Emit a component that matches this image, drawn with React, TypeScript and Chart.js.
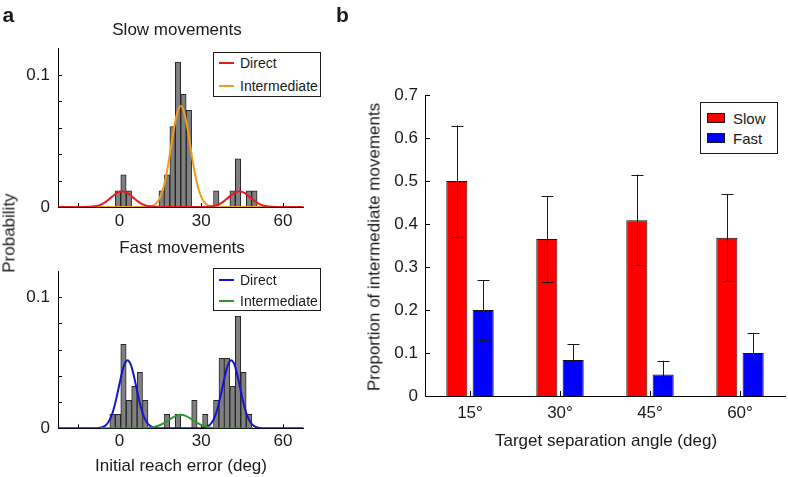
import React, { useEffect, useRef } from 'react';
import { Chart, registerables } from 'chart.js';

Chart.register(...registerables);

const FONT = '"Liberation Sans", Arial, Helvetica, sans-serif';
const INK = '#1a1a1a';

// ---------- Panel a: histogram bins (deg) and probabilities ----------
const slowBins = [-0.5, 1.5, 3.5, 15.5, 17.5, 19.5, 21.5, 23.5, 25.5, 35.5, 41.5, 43.5, 47.5, 49.5];
const slowProb = [0.0122, 0.0244, 0.0122, 0.0122, 0.0244, 0.061, 0.1098, 0.0854, 0.0732, 0.0122, 0.0122, 0.0366, 0.0122, 0.0122];

const fastBins = [-2.5, -0.5, 1.5, 3.5, 5.5, 7.5, 9.5, 17.5, 21.5, 27.5, 31.5, 35.5, 37.5, 39.5, 41.5, 43.5, 45.5, 47.5];
const fastProb = [0.0107, 0.0107, 0.0641, 0.0214, 0.0321, 0.0427, 0.0214, 0.0107, 0.0107, 0.0214, 0.0107, 0.0214, 0.0534, 0.0534, 0.0321, 0.0855, 0.0427, 0.0107];

// fitted curves
const slowDirectX = [-22.5, -13, -11, -9, -7, -5, -3, -1, 1, 3, 5, 7, 9, 11, 13, 15, 30, 32, 34, 36, 38, 40, 42, 44, 46, 48, 50, 52, 54, 56, 58, 67.5];
const slowDirectY = [0, 0, 0.0001, 0.0005, 0.0016, 0.0039, 0.0073, 0.0106, 0.012, 0.0106, 0.0073, 0.0039, 0.0016, 0.0005, 0.0001, 0, 0, 0.0001, 0.0005, 0.0016, 0.0039, 0.0073, 0.0106, 0.012, 0.0106, 0.0073, 0.0039, 0.0016, 0.0005, 0.0001, 0, 0];

const slowInterX = [-22.5, 8.5, 9.5, 10.5, 11.5, 12.5, 13.5, 14.5, 15.5, 16.5, 17.5, 18.5, 19.5, 20.5, 21.5, 22.5, 23.5, 24.5, 25.5, 26.5, 27.5, 28.5, 29.5, 30.5, 31.5, 32.5, 33.5, 34.5, 35.5, 36.5, 67.5];
const slowInterY = [0, 0, 0.0001, 0.0002, 0.0005, 0.0013, 0.0028, 0.0056, 0.0104, 0.0176, 0.0276, 0.0398, 0.053, 0.065, 0.0734, 0.0765, 0.0734, 0.065, 0.053, 0.0398, 0.0276, 0.0176, 0.0104, 0.0056, 0.0028, 0.0013, 0.0005, 0.0002, 0.0001, 0, 0];

const fastDirectX = [-22.5, -9, -8, -7, -6, -5, -4, -3, -2, -1, 0, 1, 2, 3, 4, 5, 6, 7, 8, 9, 10, 11, 12, 13, 14, 15, 29, 30, 31, 32, 33, 34, 35, 36, 37, 38, 39, 40, 41, 42, 43, 44, 45, 46, 47, 48, 49, 50, 51, 52, 53, 67.5];
const fastDirectY = [0, 0, 0.0001, 0.0004, 0.001, 0.0023, 0.0048, 0.0089, 0.0153, 0.0238, 0.0335, 0.0428, 0.0495, 0.052, 0.0495, 0.0428, 0.0335, 0.0238, 0.0153, 0.0089, 0.0048, 0.0023, 0.001, 0.0004, 0.0001, 0, 0, 0.0001, 0.0004, 0.001, 0.0023, 0.0048, 0.0089, 0.0153, 0.0238, 0.0335, 0.0428, 0.0495, 0.052, 0.0495, 0.0428, 0.0335, 0.0238, 0.0153, 0.0089, 0.0048, 0.0023, 0.001, 0.0004, 0.0001, 0, 0];

const fastInterX = [-7, 6.5, 8.5, 10.5, 12.5, 14.5, 16.5, 18.5, 20.5, 22.5, 24.5, 26.5, 28.5, 30.5, 32.5, 34.5, 36.5, 38.5, 49];
const fastInterY = [0, 0, 0.0001, 0.0003, 0.0009, 0.0021, 0.0042, 0.0069, 0.0093, 0.0103, 0.0093, 0.0069, 0.0042, 0.0021, 0.0009, 0.0003, 0.0001, 0, 0];

const histXTicks = [-15, 0, 30, 60];
const histXTickLabels = ['', '0', '30', '60'];
const histYTicks = [0, 0.02, 0.04, 0.06, 0.08, 0.1];
const histYTickLabels = ['0', '', '', '', '', '0.1'];

// ---------- Panel b ----------
const angleLabels = ['15°', '30°', '45°', '60°'];
const slowProp = [0.5, 0.365, 0.409, 0.368];
const slowLo = [0.37, 0.266, 0.304, 0.267];
const slowHi = [0.629, 0.464, 0.515, 0.47];
const fastProp = [0.2, 0.084, 0.05, 0.1];
const fastLo = [0.13, 0.049, 0.017, 0.05];
const fastHi = [0.269, 0.121, 0.082, 0.147];
const propTicks = [0, 0.1, 0.2, 0.3, 0.4, 0.5, 0.6, 0.7];
const propTickLabels = ['0', '0.1', '0.2', '0.3', '0.4', '0.5', '0.6', '0.7'];

const RED = '#e51d1d';
const ORANGE = '#f29a1c';
const BLUE = '#1414d2';
const GREEN = '#2b9a2b';

const inwardTicks = {
  id: 'inwardTicks',
  beforeDatasetsDraw(chart: any, _args: any, opts: any) {
    const { ctx, chartArea, scales } = chart;
    const len = opts.length ?? 4;
    ctx.save();
    ctx.strokeStyle = '#000';
    ctx.lineWidth = 1;
    ctx.beginPath();
    const x = scales.x;
    x.ticks.forEach((_t: any, i: number) => {
      const px = Math.round(x.getPixelForTick(i)) + 0.5;
      ctx.moveTo(px, chartArea.bottom);
      ctx.lineTo(px, chartArea.bottom - len);
    });
    const y = scales.y;
    y.ticks.forEach((_t: any, i: number) => {
      const py = Math.round(y.getPixelForTick(i)) + 0.5;
      ctx.moveTo(chartArea.left, py);
      ctx.lineTo(chartArea.left + len, py);
    });
    ctx.stroke();
    ctx.restore();
  },
};

const errorBars = {
  id: 'errorBars',
  afterDatasetsDraw(chart: any) {
    const { ctx } = chart;
    const y = chart.scales.y;
    ctx.save();
    ctx.strokeStyle = '#1a1a1a';
    ctx.lineWidth = 1;
    chart.data.datasets.forEach((ds: any, di: number) => {
      const meta = chart.getDatasetMeta(di);
      meta.data.forEach((bar: any, i: number) => {
        const x = Math.round(bar.x) + 0.5;
        const y1 = y.getPixelForValue(ds.errLow[i]);
        const y2 = y.getPixelForValue(ds.errHigh[i]);
        ctx.beginPath();
        ctx.moveTo(x, y1);
        ctx.lineTo(x, y2);
        ctx.moveTo(x - 6, Math.round(y1) + 0.5);
        ctx.lineTo(x + 6, Math.round(y1) + 0.5);
        ctx.moveTo(x - 6, Math.round(y2) + 0.5);
        ctx.lineTo(x + 6, Math.round(y2) + 0.5);
        ctx.stroke();
      });
    });
    ctx.restore();
  },
};

type Curve = { x: number[]; y: number[]; color: string; order: number };

function makeHist(
  canvas: HTMLCanvasElement,
  bins: number[],
  probs: number[],
  curves: Curve[],
  area: { top: number; right: number; xh: number; xPad: number }
) {
  return new Chart(canvas, {
    type: 'bar',
    data: {
      datasets: [
        ...curves.map((c) => ({
          type: 'line',
          data: c.x.map((x, i) => ({ x, y: c.y[i] })),
          borderColor: c.color,
          borderWidth: 2,
          pointRadius: 0,
          cubicInterpolationMode: 'monotone',
          fill: false,
          order: c.order,
        })),
        {
          type: 'bar',
          data: bins.map((b, i) => ({ x: b, y: probs[i] })),
          backgroundColor: '#808080',
          borderColor: '#262626',
          borderWidth: 1,
          barPercentage: 1,
          categoryPercentage: 1,
          inflateAmount: 0.3,
          order: 10,
        },
      ] as any,
    },
    options: {
      animation: false,
      responsive: false,
      events: [],
      layout: { autoPadding: false, padding: { top: area.top, right: area.right, left: 0, bottom: 0 } },
      plugins: { legend: { display: false }, tooltip: { enabled: false }, inwardTicks: { length: 4 } } as any,
      scales: {
        x: {
          type: 'linear',
          min: -22.5,
          max: 67.5,
          offset: false,
          grid: { display: false, drawTicks: false },
          border: { display: true, color: '#000', width: 1 },
          afterBuildTicks: (s: any) => {
            s.ticks = histXTicks.map((v) => ({ value: v }));
          },
          afterFit: (s: any) => {
            s.height = area.xh;
          },
          ticks: {
            autoSkip: false,
            maxRotation: 0,
            padding: area.xPad,
            color: INK,
            font: { family: FONT, size: 17 },
            callback: (v: any) => histXTickLabels[histXTicks.indexOf(v)] ?? '',
          },
        },
        y: {
          type: 'linear',
          min: 0,
          max: 0.12,
          grid: { display: false, drawTicks: false },
          border: { display: true, color: '#000', width: 1 },
          afterBuildTicks: (s: any) => {
            s.ticks = histYTicks.map((v) => ({ value: v }));
          },
          afterFit: (s: any) => {
            s.width = 58;
          },
          ticks: {
            autoSkip: false,
            padding: 8,
            color: INK,
            font: { family: FONT, size: 17 },
            callback: (v: any) => histYTickLabels[histYTicks.indexOf(v)] ?? '',
          },
        },
      },
    } as any,
    plugins: [inwardTicks],
  });
}

function makeBars(canvas: HTMLCanvasElement) {
  return new Chart(canvas, {
    type: 'bar',
    data: {
      labels: angleLabels,
      datasets: [
        {
          label: 'Slow',
          data: slowProp,
          errLow: slowLo,
          errHigh: slowHi,
          backgroundColor: '#ff0000',
          borderColor: '#111',
          borderWidth: 1,
          categoryPercentage: 0.585,
          barPercentage: 0.8,
        },
        {
          label: 'Fast',
          data: fastProp,
          errLow: fastLo,
          errHigh: fastHi,
          backgroundColor: '#0000ff',
          borderColor: '#111',
          borderWidth: 1,
          categoryPercentage: 0.585,
          barPercentage: 0.8,
        },
      ] as any,
    },
    options: {
      animation: false,
      responsive: false,
      events: [],
      layout: { autoPadding: false, padding: { top: 35, right: 3, left: 0, bottom: 0 } },
      plugins: { legend: { display: false }, tooltip: { enabled: false }, inwardTicks: { length: 5 } } as any,
      scales: {
        x: {
          grid: { display: false, drawTicks: false },
          border: { display: true, color: '#000', width: 1 },
          afterFit: (s: any) => {
            s.height = 81;
          },
          ticks: { padding: 7, color: INK, font: { family: FONT, size: 17 }, maxRotation: 0 },
        },
        y: {
          min: 0,
          max: 0.7,
          grid: { display: false, drawTicks: false },
          border: { display: true, color: '#000', width: 1 },
          afterBuildTicks: (s: any) => {
            s.ticks = propTicks.map((v) => ({ value: v }));
          },
          afterFit: (s: any) => {
            s.width = 95;
          },
          ticks: {
            autoSkip: false,
            padding: 7,
            color: INK,
            font: { family: FONT, size: 17 },
            callback: (v: any) => propTickLabels[propTicks.indexOf(v)] ?? '',
          },
        },
      },
    } as any,
    plugins: [inwardTicks, errorBars],
  });
}

function T(props: { x: number; base: number; size?: number; bold?: boolean; center?: boolean; children: any }) {
  const size = props.size ?? 17;
  return (
    <div
      style={{
        position: 'absolute',
        left: props.x,
        top: props.base - 0.8465 * size,
        fontSize: size,
        lineHeight: `${size}px`,
        fontWeight: props.bold ? 700 : 400,
        whiteSpace: 'nowrap',
        transform: props.center === false ? undefined : 'translateX(-50%)',
      }}
    >
      {props.children}
    </div>
  );
}

function TV(props: { baseX: number; cy: number; size?: number; children: any }) {
  const size = props.size ?? 17;
  return (
    <div
      style={{
        position: 'absolute',
        left: props.baseX - 0.3465 * size,
        top: props.cy,
        fontSize: size,
        lineHeight: `${size}px`,
        whiteSpace: 'nowrap',
        transform: 'translate(-50%, -50%) rotate(-90deg)',
      }}
    >
      {props.children}
    </div>
  );
}

function LineKey(props: { x: number; y: number; color: string; label: string }) {
  return (
    <>
      <div style={{ position: 'absolute', left: props.x, top: props.y - 1, width: 15, height: 2, background: props.color }} />
      <T x={props.x + 21} base={props.y + 5.1} size={14} center={false}>
        {props.label}
      </T>
    </>
  );
}

function BoxKey(props: { x: number; y: number; color: string; label: string }) {
  return (
    <>
      <div
        style={{
          position: 'absolute',
          left: props.x,
          top: props.y - 5,
          width: 18,
          height: 10,
          boxSizing: 'border-box',
          border: '1px solid #1a1a1a',
          background: props.color,
        }}
      />
      <T x={props.x + 26} base={props.y + 5.4} size={15} center={false}>
        {props.label}
      </T>
    </>
  );
}

export default function App() {
  const slowRef = useRef<HTMLCanvasElement>(null);
  const fastRef = useRef<HTMLCanvasElement>(null);
  const barRef = useRef<HTMLCanvasElement>(null);

  useEffect(() => {
    const charts = [
      makeHist(
        slowRef.current!,
        slowBins,
        slowProb,
        [
          { x: slowDirectX, y: slowDirectY, color: RED, order: 1 },
          { x: slowInterX, y: slowInterY, color: ORANGE, order: 2 },
        ],
        { top: 48.6, right: 26.5, xh: 28, xPad: 4 }
      ),
      makeHist(
        fastRef.current!,
        fastBins,
        fastProb,
        [
          { x: fastInterX, y: fastInterY, color: GREEN, order: 1 },
          { x: fastDirectX, y: fastDirectY, color: BLUE, order: 2 },
        ],
        { top: 31.1, right: 26.5, xh: 48.7, xPad: 2.5 }
      ),
      makeBars(barRef.current!),
    ];
    return () => charts.forEach((c) => c.destroy());
  }, []);

  return (
    <div
      style={{
        position: 'absolute',
        left: 0,
        top: 0,
        width: 788,
        height: 477,
        overflow: 'hidden',
        background: '#fff',
        fontFamily: FONT,
        color: INK,
      }}
    >
      <canvas ref={slowRef} width={330} height={235} style={{ position: 'absolute', left: 0, top: 0, width: 330, height: 235 }} />
      <canvas ref={fastRef} width={330} height={237} style={{ position: 'absolute', left: 0, top: 240, width: 330, height: 237 }} />
      <canvas ref={barRef} width={458} height={417} style={{ position: 'absolute', left: 330, top: 60, width: 458, height: 417 }} />

      <T x={2.5} base={22} size={21} bold center={false}>a</T>
      <T x={336} base={22} size={21} bold center={false}>b</T>

      <T x={177} base={35}>Slow movements</T>
      <T x={182} base={253}>Fast movements</T>
      <TV baseX={15} cy={233}>Probability</TV>
      <T x={181} base={471.5}>Initial reach error (deg)</T>

      <TV baseX={379.5} cy={247}>Proportion of intermediate movements</TV>
      <T x={606} base={446}>Target separation angle (deg)</T>

      {/* legend: slow */}
      <div style={{ position: 'absolute', left: 213, top: 52, width: 108, height: 45, boxSizing: 'border-box', border: '1px solid #1a1a1a', background: '#fff' }} />
      <LineKey x={219} y={63} color={RED} label="Direct" />
      <LineKey x={219} y={86} color={ORANGE} label="Intermediate" />

      {/* legend: fast */}
      <div style={{ position: 'absolute', left: 213, top: 268, width: 108, height: 43, boxSizing: 'border-box', border: '1px solid #1a1a1a', background: '#fff' }} />
      <LineKey x={219} y={280} color={BLUE} label="Direct" />
      <LineKey x={219} y={301} color={GREEN} label="Intermediate" />

      {/* legend: panel b */}
      <div style={{ position: 'absolute', left: 700, top: 102, width: 78, height: 52, boxSizing: 'border-box', border: '1px solid #1a1a1a', background: '#fff' }} />
      <BoxKey x={707} y={118} color="#ff0000" label="Slow" />
      <BoxKey x={707} y={138} color="#0000ff" label="Fast" />
    </div>
  );
}
